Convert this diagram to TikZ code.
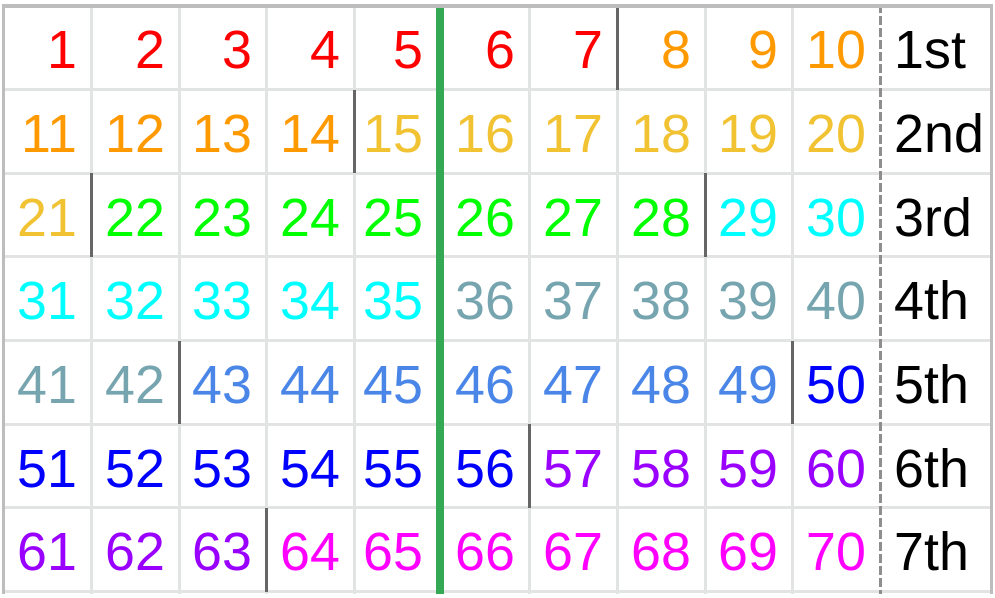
\documentclass[tikz,border=0pt]{standalone}
\usepackage{fontspec}
\setmainfont{Liberation Sans}
\usepackage{tikz}
\usetikzlibrary{calc,positioning}

\definecolor{c1}{HTML}{FF0000}
\definecolor{c2}{HTML}{FF9900}
\definecolor{c3}{HTML}{F1C232}
\definecolor{c4}{HTML}{00FF00}
\definecolor{c5}{HTML}{00FFFF}
\definecolor{c6}{HTML}{76A5AF}
\definecolor{c7}{HTML}{4A86E8}
\definecolor{c8}{HTML}{0000FF}
\definecolor{c9}{HTML}{9900FF}
\definecolor{c10}{HTML}{FF00FF}
\definecolor{gridgray}{HTML}{E2E3E3}
\definecolor{bordergray}{HTML}{BDBDBD}
\definecolor{sepgray}{HTML}{666666}
\definecolor{midgreen}{HTML}{34A853}
\definecolor{dashgray}{HTML}{8E8E8E}

\begin{document}
\begin{tikzpicture}[x=1pt,y=-1pt,
  num/.style={anchor=base east,inner sep=0pt,font=\fontsize{54}{60}\selectfont},
  lab/.style={anchor=base west,inner sep=0pt,font=\fontsize{54}{60}\selectfont},
  gridline/.style={draw=gridgray,line width=3pt},
  sep/.style={draw=sepgray,line width=3pt}]

  \fill[white] (0,0) rectangle (995,592);

  % light grid
  \foreach \y in {86,170,254,338,422,506,589.5}
    \draw[gridline] (0,\y) -- (995,\y);
  \foreach \x in {90,178,266,354,530,618,706,794}
    \draw[gridline] (\x,0) -- (\x,592);

  % middle and label column
  \draw[draw=midgreen,line width=8pt] (440,0) -- (440,592);
  \draw[draw=dashgray,line width=3pt,dash pattern=on 9pt off 3pt] (882,0) -- (882,592);

  % where the colour changes
  \foreach \r/\x in {1/618,2/354,3/90,3/706,5/178,5/794,6/530,7/266}
    \draw[sep] (\x,{2+84*(\r-1)}) -- (\x,{2+84*\r});

  % outer border
  \draw[draw=bordergray,line width=4pt] (0,2) -- (995,2);
  \draw[draw=bordergray,line width=3pt] (1.5,0) -- (1.5,592);
  \draw[draw=bordergray,line width=3pt] (993.5,0) -- (993.5,592);

  \foreach \r in {1,...,7}
    \foreach \c/\xr in {1/90,2/178,3/266,4/354,5/437,6/530,7/618,8/706,9/794,10/882}{
      \pgfmathtruncatemacro\n{10*(\r-1)+\c}
      \pgfmathtruncatemacro\k{(\n-1)/7+1}
      \node[num,text=c\k] (n\n) at (\xr-14,{2+84*(\r-1)+63}) {\n};
    }

  \foreach \r/\t in {1/1st,2/2nd,3/3rd,4/4th,5/5th,6/6th,7/7th}
    \node[lab] (r\r) at (896,{2+84*(\r-1)+63}) {\t};
\end{tikzpicture}
\end{document}
